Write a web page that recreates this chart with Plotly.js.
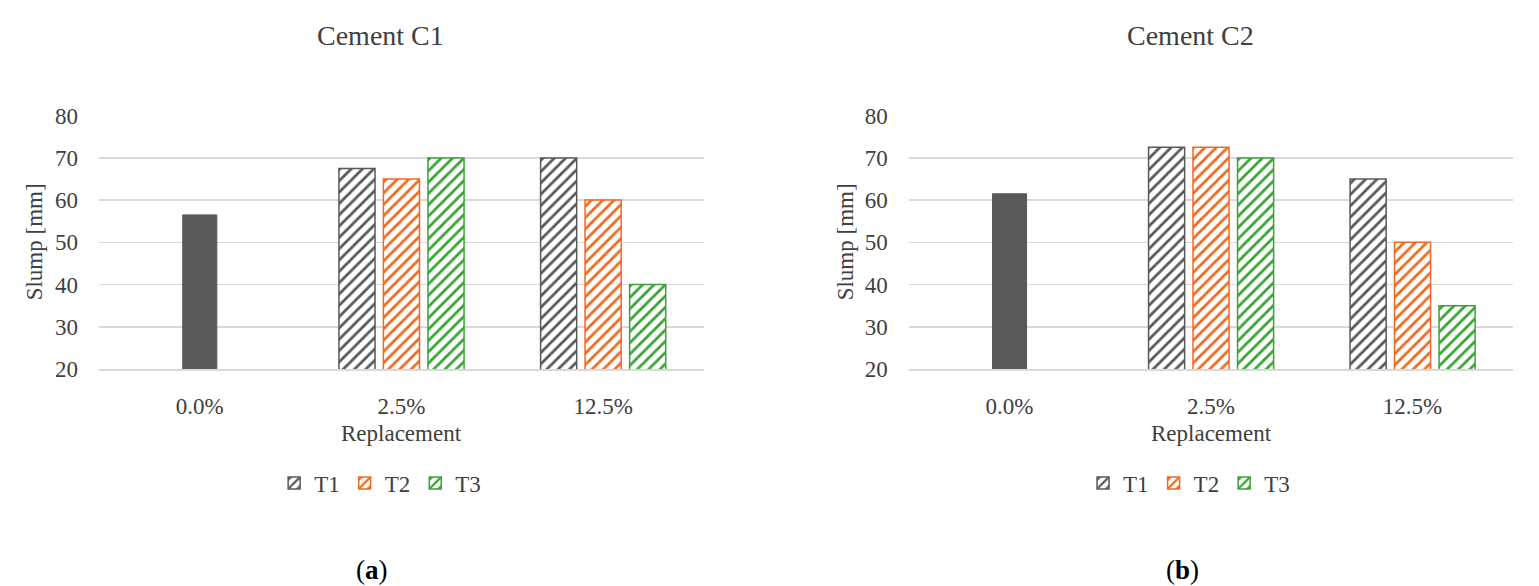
<!DOCTYPE html>
<html>
<head>
<meta charset="utf-8">
<script src="https://cdn.plot.ly/plotly-3.0.1.min.js"></script>
<style>
  html, body { margin: 0; padding: 0; background: #fff; }
  #chart { width: 1539px; height: 586px; }
</style>
</head>
<body>
<div id="chart"></div>
<script>
const categories = ['0.0%', '2.5%', '12.5%'];
const seriesNames = ['T1', 'T2', 'T3'];

// Cement C1
const c1Reference = [56.5, null, null];
const c1T1 = [null, 67.5, 70];
const c1T2 = [null, 65, 60];
const c1T3 = [null, 70, 40];

// Cement C2
const c2Reference = [61.5, null, null];
const c2T1 = [null, 72.5, 65];
const c2T2 = [null, 72.5, 50];
const c2T3 = [null, 70, 35];

const colors = ['#595959', '#EE6A22', '#3AA336'];
const barOffsets = [-0.31, -0.0895, 0.1315];
const barWidth = 0.179;
const serif = 'Liberation Serif, Times New Roman, serif';

function hatchedTrace(name, values, i, xa, ya, legend) {
  return {
    type: 'bar',
    name: name,
    x: categories,
    y: values,
    xaxis: xa,
    yaxis: ya,
    legend: legend,
    offset: barOffsets[i],
    width: barWidth,
    marker: {
      color: 'white',
      line: { color: colors[i], width: 1.5 },
      pattern: { shape: '/', fgcolor: colors[i], bgcolor: 'white', size: 8, solidity: 0.35 }
    },
    hoverinfo: 'x+y+name'
  };
}

function solidTrace(values, xa, ya) {
  return {
    type: 'bar',
    name: 'Reference',
    x: categories,
    y: values,
    xaxis: xa,
    yaxis: ya,
    offset: -0.0845,
    width: 0.169,
    showlegend: false,
    marker: { color: '#595959', line: { color: '#595959', width: 1 } }
  };
}

const traces = [
  solidTrace(c1Reference, 'x', 'y'),
  hatchedTrace(seriesNames[0], c1T1, 0, 'x', 'y', 'legend'),
  hatchedTrace(seriesNames[1], c1T2, 1, 'x', 'y', 'legend'),
  hatchedTrace(seriesNames[2], c1T3, 2, 'x', 'y', 'legend'),
  solidTrace(c2Reference, 'x2', 'y2'),
  hatchedTrace(seriesNames[0], c2T1, 0, 'x2', 'y2', 'legend2'),
  hatchedTrace(seriesNames[1], c2T2, 1, 'x2', 'y2', 'legend2'),
  hatchedTrace(seriesNames[2], c2T3, 2, 'x2', 'y2', 'legend2')
];

const xBase = {
  type: 'category',
  showgrid: false,
  showline: true,
  linecolor: '#d9d9d9',
  linewidth: 1.5,
  ticks: '',
  ticklabelstandoff: 16,
  tickfont: { family: serif, size: 23, color: '#404040' },
  fixedrange: true
};
const yBase = {
  range: [20, 80],
  dtick: 10,
  showgrid: true,
  gridcolor: '#d9d9d9',
  gridwidth: 1.5,
  zeroline: false,
  showline: false,
  ticks: '',
  ticklabelstandoff: 20,
  tickfont: { family: serif, size: 23, color: '#404040' },
  fixedrange: true
};

const yDomain = [0.3703, 0.8026];
const legendBase = {
  orientation: 'h',
  xanchor: 'center',
  yanchor: 'middle',
  y: 0.1758,
  font: { family: serif, size: 23, color: '#404040' },
  bgcolor: 'rgba(0,0,0,0)',
  itemwidth: 30,
  traceorder: 'normal'
};

const textFont = { family: serif, size: 23, color: '#404040' };

const layout = {
  width: 1539,
  height: 586,
  autosize: false,
  margin: { l: 0, r: 0, t: 0, b: 0 },
  paper_bgcolor: 'white',
  plot_bgcolor: 'white',
  barmode: 'overlay',
  showlegend: true,
  xaxis: Object.assign({}, xBase, { domain: [0.0643, 0.4574], anchor: 'y' }),
  yaxis: Object.assign({}, yBase, { domain: yDomain, anchor: 'x' }),
  xaxis2: Object.assign({}, xBase, { domain: [0.5905, 0.9833], anchor: 'y2' }),
  yaxis2: Object.assign({}, yBase, { domain: yDomain, anchor: 'x2' }),
  legend: Object.assign({}, legendBase, { x: 0.247 }),
  legend2: Object.assign({}, legendBase, { x: 0.7726 }),
  annotations: [
    { text: 'Cement C1', x: 380 / 1539, y: 0.940, xref: 'paper', yref: 'paper',
      xanchor: 'center', yanchor: 'middle', showarrow: false,
      font: { family: serif, size: 28, color: '#404040' } },
    { text: 'Cement C2', x: 1190 / 1539, y: 0.940, xref: 'paper', yref: 'paper',
      xanchor: 'center', yanchor: 'middle', showarrow: false,
      font: { family: serif, size: 28, color: '#404040' } },
    { text: 'Replacement', x: 401.5 / 1539, y: 0.2594, xref: 'paper', yref: 'paper',
      xanchor: 'center', yanchor: 'middle', showarrow: false, font: textFont },
    { text: 'Replacement', x: 1211 / 1539, y: 0.2594, xref: 'paper', yref: 'paper',
      xanchor: 'center', yanchor: 'middle', showarrow: false, font: textFont },
    { text: 'Slump [mm]', x: 34 / 1539, y: 0.5865, xref: 'paper', yref: 'paper',
      xanchor: 'center', yanchor: 'middle', textangle: -90, showarrow: false, font: textFont },
    { text: 'Slump [mm]', x: 845 / 1539, y: 0.5865, xref: 'paper', yref: 'paper',
      xanchor: 'center', yanchor: 'middle', textangle: -90, showarrow: false, font: textFont },
    { text: '(<b>a</b>)', x: 371.5 / 1539, y: 0.027, xref: 'paper', yref: 'paper',
      xanchor: 'center', yanchor: 'middle', showarrow: false,
      font: { family: serif, size: 27, color: '#000000' } },
    { text: '(<b>b</b>)', x: 1182 / 1539, y: 0.027, xref: 'paper', yref: 'paper',
      xanchor: 'center', yanchor: 'middle', showarrow: false,
      font: { family: serif, size: 27, color: '#000000' } }
  ]
};

Plotly.newPlot('chart', traces, layout, { displayModeBar: false, staticPlot: true });
</script>
</body>
</html>
